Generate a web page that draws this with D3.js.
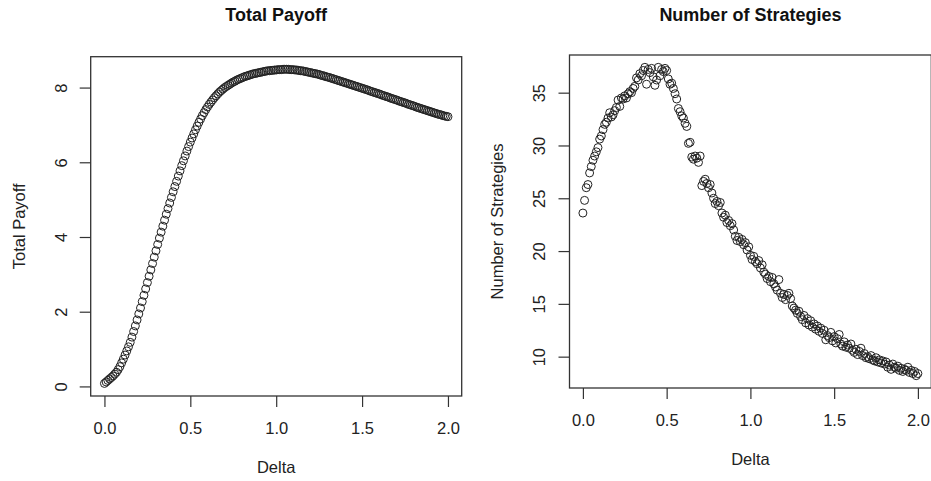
<!DOCTYPE html>
<html>
<head>
<meta charset="utf-8">
<script src="https://cdn.jsdelivr.net/npm/d3@7"></script>
<style>
  body { margin: 0; background: #fff; }
  svg { display: block; font-family: "Liberation Sans", Arial, sans-serif; }
</style>
</head>
<body>
<svg id="chart"></svg>
<script>
// Delta grid (x values shared by both panels)
const delta = [
  0.00,0.01,0.02,0.03,0.04,0.05,0.06,0.07,0.08,0.09,0.10,0.11,0.12,0.13,0.14,0.15,0.16,0.17,0.18,0.19,
  0.20,0.21,0.22,0.23,0.24,0.25,0.26,0.27,0.28,0.29,0.30,0.31,0.32,0.33,0.34,0.35,0.36,0.37,0.38,0.39,
  0.40,0.41,0.42,0.43,0.44,0.45,0.46,0.47,0.48,0.49,0.50,0.51,0.52,0.53,0.54,0.55,0.56,0.57,0.58,0.59,
  0.60,0.61,0.62,0.63,0.64,0.65,0.66,0.67,0.68,0.69,0.70,0.71,0.72,0.73,0.74,0.75,0.76,0.77,0.78,0.79,
  0.80,0.81,0.82,0.83,0.84,0.85,0.86,0.87,0.88,0.89,0.90,0.91,0.92,0.93,0.94,0.95,0.96,0.97,0.98,0.99,
  1.00,1.01,1.02,1.03,1.04,1.05,1.06,1.07,1.08,1.09,1.10,1.11,1.12,1.13,1.14,1.15,1.16,1.17,1.18,1.19,
  1.20,1.21,1.22,1.23,1.24,1.25,1.26,1.27,1.28,1.29,1.30,1.31,1.32,1.33,1.34,1.35,1.36,1.37,1.38,1.39,
  1.40,1.41,1.42,1.43,1.44,1.45,1.46,1.47,1.48,1.49,1.50,1.51,1.52,1.53,1.54,1.55,1.56,1.57,1.58,1.59,
  1.60,1.61,1.62,1.63,1.64,1.65,1.66,1.67,1.68,1.69,1.70,1.71,1.72,1.73,1.74,1.75,1.76,1.77,1.78,1.79,
  1.80,1.81,1.82,1.83,1.84,1.85,1.86,1.87,1.88,1.89,1.90,1.91,1.92,1.93,1.94,1.95,1.96,1.97,1.98,1.99,
  2.00
];

// Left panel: total payoff at each delta
const totalPayoff = [
  0.08,0.12,0.16,0.20,0.24,0.28,0.33,0.38,0.45,0.53,0.63,0.73,0.84,0.95,1.06,1.18,1.32,1.47,1.62,1.78,
  1.94,2.10,2.27,2.44,2.61,2.78,2.95,3.12,3.29,3.46,3.63,3.80,3.97,4.13,4.29,4.45,4.61,4.76,4.91,5.06,
  5.21,5.35,5.49,5.63,5.77,5.91,6.04,6.17,6.30,6.42,6.54,6.65,6.76,6.87,6.97,7.07,7.16,7.25,7.33,7.41,
  7.48,7.55,7.61,7.67,7.73,7.78,7.83,7.88,7.92,7.96,8.00,8.03,8.06,8.09,8.12,8.15,8.17,8.20,8.22,8.24,
  8.26,8.28,8.30,8.31,8.33,8.34,8.36,8.37,8.38,8.39,8.40,8.41,8.42,8.43,8.44,8.45,8.45,8.46,8.46,8.47,
  8.47,8.48,8.48,8.48,8.49,8.49,8.49,8.49,8.48,8.48,8.48,8.47,8.47,8.46,8.45,8.45,8.44,8.43,8.42,8.41,
  8.40,8.39,8.38,8.37,8.36,8.35,8.33,8.32,8.31,8.29,8.28,8.27,8.25,8.24,8.22,8.21,8.19,8.18,8.16,8.15,
  8.13,8.12,8.10,8.09,8.07,8.06,8.04,8.03,8.01,8.00,7.98,7.97,7.95,7.94,7.92,7.90,7.89,7.87,7.86,7.84,
  7.83,7.81,7.79,7.78,7.76,7.75,7.73,7.71,7.70,7.68,7.67,7.65,7.63,7.62,7.60,7.59,7.57,7.55,7.54,7.52,
  7.51,7.49,7.47,7.46,7.44,7.43,7.41,7.40,7.38,7.37,7.35,7.34,7.32,7.31,7.29,7.28,7.27,7.25,7.24,7.23,
  7.22
];

// Right panel: number of strategies at each delta
const numStrategies = [
  23.6,24.8,26.0,26.3,27.4,28.0,28.6,29.0,29.4,29.8,30.6,30.9,31.5,32.0,32.2,32.6,33.1,32.7,32.9,33.3,
  33.6,34.3,33.7,34.5,34.4,34.7,34.5,34.9,35.1,35.0,35.4,35.6,36.4,36.2,36.8,36.6,37.1,37.4,35.8,37.2,
  36.9,37.3,36.5,35.7,36.2,37.4,36.6,37.2,37.0,37.3,37.1,36.3,35.8,35.9,35.4,34.9,34.4,33.5,33.2,32.8,
  32.6,32.1,31.8,30.2,30.3,28.9,28.7,29.0,28.8,28.4,29.0,26.2,26.6,26.8,26.4,26.0,26.3,25.5,25.0,24.5,
  24.7,24.3,24.6,23.6,23.2,23.4,22.7,22.9,22.4,22.6,22.0,21.4,21.0,21.3,20.9,21.1,20.6,20.8,20.1,20.4,
  19.6,19.2,19.5,19.0,18.8,19.1,18.4,18.7,18.0,17.8,17.4,17.6,17.1,17.5,16.9,16.6,16.3,17.3,16.0,15.6,
  15.9,15.4,15.8,16.0,15.5,14.8,14.6,14.4,14.1,14.3,13.8,13.5,13.9,13.2,13.6,13.0,13.4,12.8,13.1,12.6,
  12.9,12.4,12.7,12.2,12.5,11.6,12.0,11.8,12.3,11.5,11.9,11.3,11.7,12.1,11.2,11.0,11.4,10.9,11.1,10.8,
  11.2,10.6,10.4,10.7,10.2,10.5,10.8,10.1,10.3,9.9,10.0,9.8,10.1,9.7,9.6,9.9,9.5,9.7,9.4,9.6,
  9.3,9.5,9.0,9.2,8.8,9.3,9.0,8.9,9.1,8.7,8.9,8.6,8.8,8.7,9.0,8.5,8.7,8.4,8.6,8.2,
  8.4
];

// Tick values
const deltaTicks = [0, 0.5, 1, 1.5, 2];
const payoffTicks = [0, 2, 4, 6, 8];
const strategyTicks = [10, 15, 20, 25, 30, 35];

let width = 931, height = 481;

let svg = d3.select('#chart')
    .attr('width', width)
    .attr('height', height);

// draws one R-style scatter panel inside the given box
function drawPanel(box, yValues, yTicks, title, yLabel) {
    let g = svg.append('g');

    // R pads the data range by 4% on each side
    let xExt = d3.extent(delta);
    let padX = (xExt[1] - xExt[0]) * 0.04;
    let xScale = d3.scaleLinear()
        .domain([xExt[0] - padX, xExt[1] + padX])
        .range([box.left, box.right]);

    let yExt = d3.extent(yValues);
    let padY = (yExt[1] - yExt[0]) * 0.04;
    let yScale = d3.scaleLinear()
        .domain([yExt[0] - padY, yExt[1] + padY])
        .range([box.bottom, box.top]);

    // x axis
    let xAxis = g.append('g')
        .attr('transform', `translate(0, ${box.bottom})`)
        .call(d3.axisBottom(xScale).tickValues(deltaTicks).tickFormat(d3.format('.1f')).tickSize(11));
    xAxis.select('.domain').remove();
    xAxis.selectAll('line').attr('stroke', '#333').attr('stroke-width', 1.2);
    xAxis.selectAll('text')
        .attr('y', 32)
        .attr('dy', '0.36em')
        .attr('fill', '#222')
        .style('font-size', '16.5px')
        .style('font-family', '"Liberation Sans", Arial, sans-serif');

    // y axis, labels rotated like R's default las = 0
    let yAxis = g.append('g')
        .attr('transform', `translate(${box.left}, 0)`)
        .call(d3.axisLeft(yScale).tickValues(yTicks).tickSize(11));
    yAxis.select('.domain').remove();
    yAxis.selectAll('line').attr('stroke', '#333').attr('stroke-width', 1.2);
    yAxis.selectAll('text')
        .attr('x', 0)
        .attr('dy', '0.36em')
        .attr('text-anchor', 'middle')
        .attr('transform', 'translate(-30, 0) rotate(-90)')
        .attr('fill', '#222')
        .style('font-size', '16.5px')
        .style('font-family', '"Liberation Sans", Arial, sans-serif');

    // box around the plot region
    g.append('rect')
        .attr('x', box.left)
        .attr('y', box.top)
        .attr('width', box.right - box.left)
        .attr('height', box.bottom - box.top)
        .attr('fill', 'none')
        .attr('stroke', '#333')
        .attr('stroke-width', 1.3);

    // open circles (pch = 1)
    g.selectAll('circle')
        .data(delta.map((d, i) => ({x: d, y: yValues[i]})))
        .enter()
        .append('circle')
        .attr('cx', d => xScale(d.x))
        .attr('cy', d => yScale(d.y))
        .attr('r', 4)
        .attr('fill', 'none')
        .attr('stroke', '#222')
        .attr('stroke-width', 1);

    // title
    g.append('text')
        .attr('x', (box.left + box.right) / 2)
        .attr('y', 21)
        .attr('text-anchor', 'middle')
        .attr('fill', '#111')
        .style('font-size', '18px')
        .style('font-weight', 'bold')
        .text(title);

    // x label
    g.append('text')
        .attr('x', (box.left + box.right) / 2)
        .attr('y', box.bottom + 71)
        .attr('dy', '0.36em')
        .attr('text-anchor', 'middle')
        .attr('fill', '#222')
        .style('font-size', '16.5px')
        .text('Delta');

    // y label
    g.append('text')
        .attr('transform', 'rotate(-90)')
        .attr('x', -(box.top + box.bottom) / 2)
        .attr('y', box.left - 72)
        .attr('dy', '0.36em')
        .attr('text-anchor', 'middle')
        .attr('fill', '#222')
        .style('font-size', '16.5px')
        .text(yLabel);
}

drawPanel({left: 90.7, right: 461.7, top: 56.7, bottom: 396}, totalPayoff, payoffTicks, 'Total Payoff', 'Total Payoff');
drawPanel({left: 569.5, right: 931.3, top: 55, bottom: 388}, numStrategies, strategyTicks, 'Number of Strategies', 'Number of Strategies');
</script>
</body>
</html>
